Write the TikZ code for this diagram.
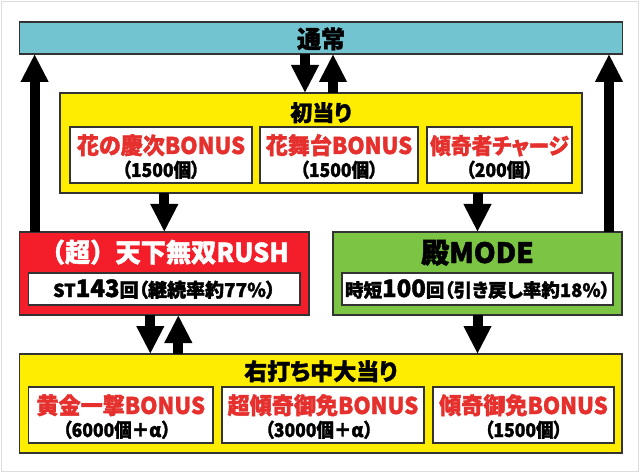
\documentclass[tikz,border=0pt]{standalone}
\usepackage{fontspec}
\usepackage{graphicx}
\setmainfont{Noto Sans CJK JP}[BoldFeatures={FakeBold=1.6}]
\newfontfamily\pfont{Noto Sans CJK JP}[RawFeature=+palt, BoldFeatures={FakeBold=1.6}]
\newfontfamily\ffont{Noto Sans CJK JP}[BoldFeatures={FakeBold=1.6}]
\usetikzlibrary{arrows.meta}
\definecolor{cblue}{HTML}{72C4D0}
\definecolor{cyel}{HTML}{FFED00}
\definecolor{cred}{HTML}{F41E2A}
\definecolor{cgreen}{HTML}{7CC444}
\definecolor{ctxt}{HTML}{E5302D}
\definecolor{cline}{HTML}{333333}
\definecolor{cframe}{HTML}{DDDDDD}
\newcommand\fsz[1]{\fontsize{#1}{#1}\selectfont}
\newcommand\hsq[2]{\scalebox{#1}[1]{#2}}
\tikzset{
  box/.style={draw=cline, line width=1.1pt, anchor=north west, inner sep=0pt, outer sep=0pt},
  wbox/.style={box, fill=white},
  lbl/.style={anchor=base, inner sep=0pt, outer sep=0pt, font=\bfseries},
  plbl/.style={anchor=base, inner sep=0pt, outer sep=0pt, font=\pfont\bfseries},
  bigarr/.style={draw=black, line width=10pt, -{Triangle[width=26pt,length=28pt]}},
}
\begin{document}
\begin{tikzpicture}[x=1pt,y=-1pt]
\useasboundingbox (0,0) rectangle (640,473);
\draw[cframe, line width=1.2pt] (1.5,1.5) rectangle (638.5,471.5);
% boxes
\node[box, fill=cblue, minimum width=603pt, minimum height=32pt] (tsujo) at (19.6,22) {};
\node[box, fill=cyel, minimum width=522pt, minimum height=100pt] (shoatari) at (60,93) {};
\node[wbox, minimum width=182pt, minimum height=56pt] (s1) at (70,127) {};
\node[wbox, minimum width=158pt, minimum height=56pt] (s2) at (260,127) {};
\node[wbox, minimum width=145pt, minimum height=56pt] (s3) at (427,127) {};
\node[box, fill=cred, minimum width=289.4pt, minimum height=83pt] (rush) at (19.6,232) {};
\node[wbox, minimum width=271.4pt, minimum height=32pt] (rushin) at (28.6,273) {};
\node[box, fill=cgreen, minimum width=289pt, minimum height=83pt] (tono) at (333,232) {};
\node[wbox, minimum width=271pt, minimum height=32pt] (tonoin) at (342,273) {};
\node[box, fill=cyel, minimum width=602.4pt, minimum height=99pt] (migi) at (19.6,354) {};
\node[wbox, minimum width=184.4pt, minimum height=56pt] (b1) at (28.6,387) {};
\node[wbox, minimum width=202pt, minimum height=56pt] (b2) at (222,387) {};
\node[wbox, minimum width=181pt, minimum height=56pt] (b3) at (433,387) {};
% titles
\node[lbl] (tsujot) at (tsujo.center |- 0,48) {\fsz{24}通常};
\node[plbl] (shoatarit) at (shoatari.center |- 0,121) {\fsz{22}初当り};
\node[lbl, text=white] (rusht) at (rush.center |- 0,262) {\fsz{26}\hsq{0.97}{（超）天下無双RUSH}};
\node[lbl] (tonot) at (tono.center |- 0,263) {\fsz{28}殿MODE};
\node[plbl] (migit) at (migi.center |- 0,380) {\fsz{23}右打ち中大当り};
% top inner texts
\node[plbl, text=ctxt] (s1a) at (s1.center |- 0,154) {\fsz{23}\hsq{0.96}{花の慶次BONUS}};
\node[plbl] (s1b) at (s1.center |- 0,177) {\fsz{19}\hsq{0.92}{（1500個）}};
\node[plbl, text=ctxt] (s2a) at (s2.center |- 0,154) {\fsz{23}\hsq{0.96}{花舞台BONUS}};
\node[plbl] (s2b) at (s2.center |- 0,177) {\fsz{19}\hsq{0.92}{（1500個）}};
\node[plbl, text=ctxt] (s3a) at (s3.center |- 0,154) {\fsz{22}\hsq{0.94}{傾奇者チャージ}};
\node[plbl] (s3b) at (s3.center |- 0,177) {\fsz{19}\hsq{0.92}{（200個）}};
% mode texts
\node[plbl] (rushint) at (rushin.center |- 0,297) {\fsz{18}ST\fsz{24}143\fsz{19}回（継続率約77\%）};
\node[plbl] (tonoint) at (tonoin.center |- 0,297) {\fsz{18.5}時短\fsz{24}100\fsz{18.5}回（引き戻し率約18\%）};
% bottom inner texts
\node[plbl, text=ctxt] (b1a) at (b1.center |- 0,414) {\fsz{23}\hsq{0.96}{黄金一撃BONUS}};
\node[plbl] (b1b) at (b1.center |- 0,437) {\fsz{19}\hsq{0.92}{（6000個\ffont\bfseries ＋α）}};
\node[plbl, text=ctxt] (b2a) at (b2.center |- 0,414) {\fsz{23}\hsq{0.96}{超傾奇御免BONUS}};
\node[plbl] (b2b) at (b2.center |- 0,437) {\fsz{19}\hsq{0.92}{（3000個\ffont\bfseries ＋α）}};
\node[plbl, text=ctxt] (b3a) at (b3.center |- 0,414) {\fsz{23}\hsq{0.96}{傾奇御免BONUS}};
\node[plbl] (b3b) at (b3.center |- 0,437) {\fsz{19}\hsq{0.92}{（1500個）}};
% arrow columns
\coordinate (cL) at ([xshift=15pt]rush.north west);
\coordinate (cR) at ([xshift=-13pt]tono.north east);
\coordinate (cMd) at ([xshift=-16pt]shoatari.north);
\coordinate (cMu) at ([xshift=12pt]shoatari.north);
\coordinate (cRd) at ([xshift=-14pt]rush.south);
\coordinate (cRu) at ([xshift=14pt]rush.south);
% arrows
\draw[bigarr] (cL |- rush.north) -- (cL |- tsujo.south);
\draw[bigarr] (cR |- tono.north) -- (cR |- tsujo.south);
\draw[bigarr] (cMd |- tsujo.south) -- (cMd |- shoatari.north);
\draw[bigarr] (cMu |- shoatari.north) -- (cMu |- tsujo.south);
\draw[bigarr] (rush.north |- shoatari.south) -- (rush.north);
\draw[bigarr] (tono.north |- shoatari.south) -- (tono.north);
\draw[bigarr] (cRd |- rush.south) -- (cRd |- migi.north);
\draw[bigarr] (cRu |- migi.north) -- (cRu |- rush.south);
\draw[bigarr] (tono.south) -- (tono.south |- migi.north);
\end{tikzpicture}
\end{document}
